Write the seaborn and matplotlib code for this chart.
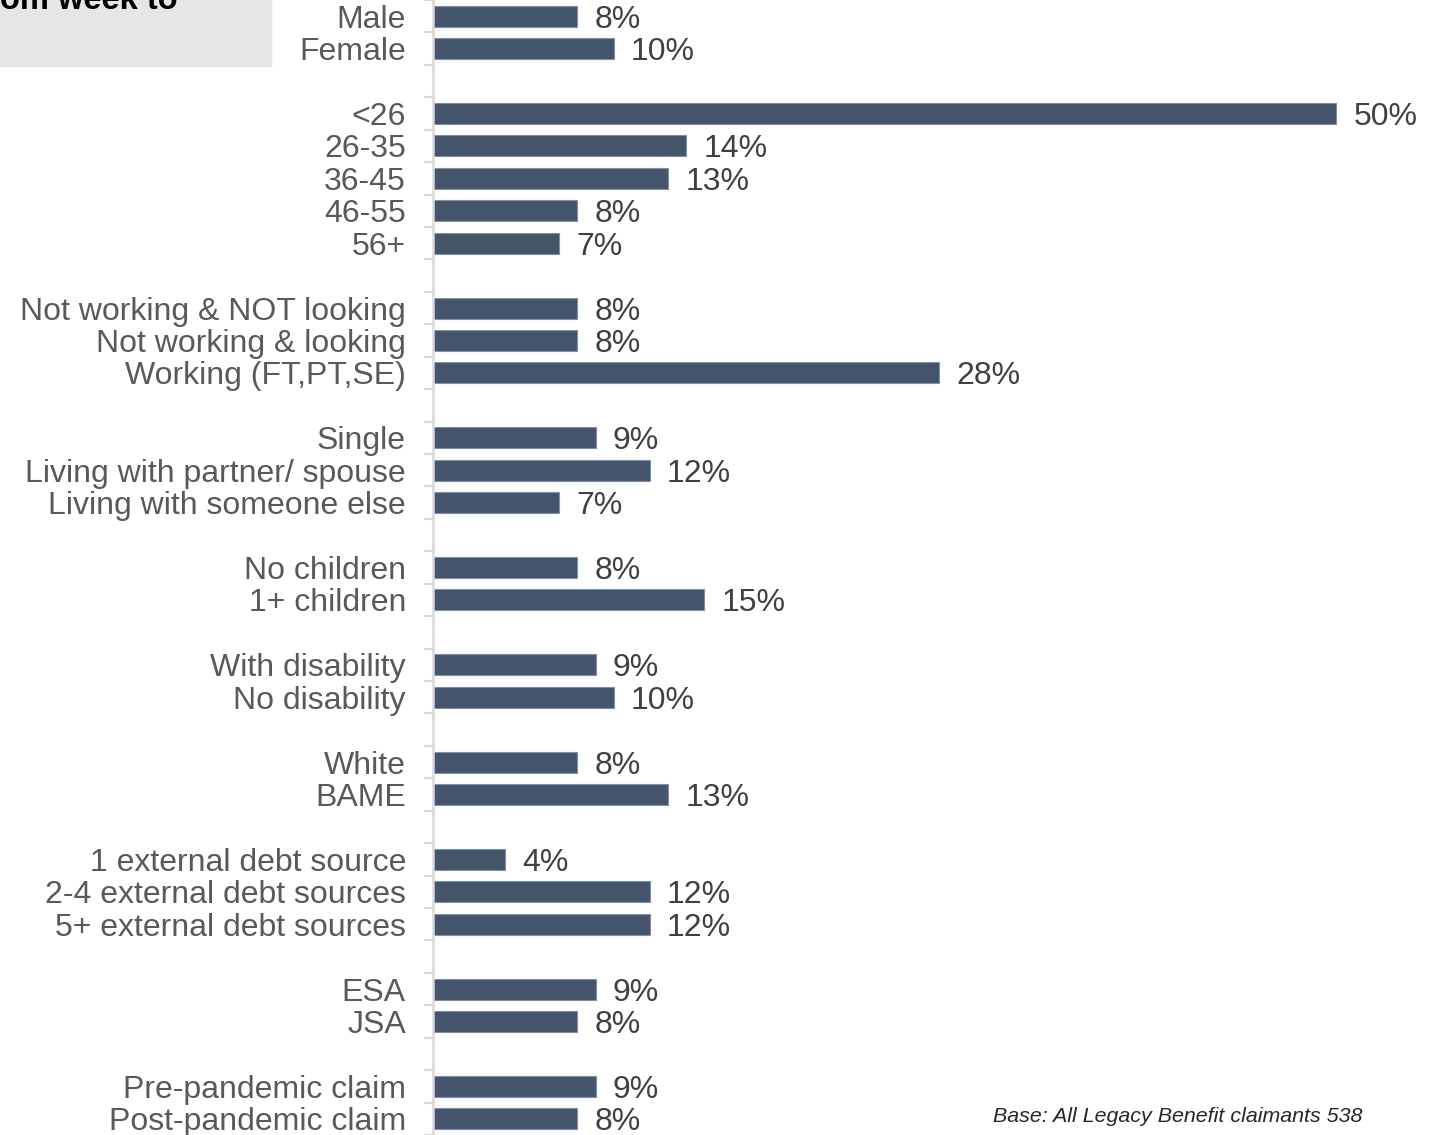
import matplotlib
matplotlib.use("Agg")
import matplotlib.pyplot as plt
from matplotlib.patches import Rectangle
import seaborn as sns
import pandas as pd

# ---- data ----
groups = [
    ["Male", "Female"],
    ["<26", "26-35", "36-45", "46-55", "56+"],
    ["Not working & NOT looking", "Not working & looking", "Working (FT,PT,SE)"],
    ["Single", "Living with partner/ spouse", "Living with someone else"],
    ["No children", "1+ children"],
    ["With disability", "No disability"],
    ["White", "BAME"],
    ["1 external debt source", "2-4 external debt sources", "5+ external debt sources"],
    ["ESA", "JSA"],
    ["Pre-pandemic claim", "Post-pandemic claim"],
]
values = [
    [8, 10],
    [50, 14, 13, 8, 7],
    [8, 8, 28],
    [9, 12, 7],
    [8, 15],
    [9, 10],
    [8, 13],
    [4, 12, 12],
    [9, 8],
    [9, 8],
]
footnote = "Base: All Legacy Benefit claimants 538"
box_text = "om week to"

# ---- build ordered categories with blank spacer rows ----
order, labels, cats, vals = [], [], [], []
for gi, (g, v) in enumerate(zip(groups, values)):
    if gi > 0:
        order.append(" " * gi)
        labels.append("")
    for c, x in zip(g, v):
        order.append(c)
        labels.append(c)
        cats.append(c)
        vals.append(x)
df = pd.DataFrame({"cat": cats, "val": vals})

sns.set_theme(style="white")
plt.rcParams["font.family"] = ["Liberation Sans", "DejaVu Sans"]

W, H = 1442, 1135
fig = plt.figure(figsize=(W / 100, H / 100), dpi=100)
ax_left = 433 / W
ax = fig.add_axes([ax_left, 0, 1 - ax_left, 1])

bar_color = "#44546A"
sns.barplot(data=df, x="val", y="cat", order=order, orient="h",
            color=bar_color, saturation=1, width=0.65, errorbar=None,
            edgecolor="#7F8FA6", linewidth=0.8, ax=ax)

px_per_unit = 903 / 50
ax.set_xlim(0, (W - 433) / px_per_unit)
n = len(order)
ax.set_ylim(n - 0.5, -0.5)

for cont in ax.containers:
    for bar in cont:
        w = bar.get_width()
        yc = bar.get_y() + bar.get_height() / 2
        ax.annotate(f"{w:.0f}%", xy=(w, yc), xytext=(12.5, -2.5),
                    textcoords="offset points", ha="left", va="center",
                    fontsize=23, color="#404040")

# ticks: labels at centers (no marks), marks at boundaries
ax.set_yticks(range(n))
ax.set_yticklabels(labels)
ax.tick_params(axis="y", which="major", length=0, pad=19.5,
               labelsize=23, labelcolor="#595959")
ax.set_yticks([i - 0.5 for i in range(n + 1)], minor=True)
ax.tick_params(axis="y", which="minor", length=6.5, width=1.5,
               color="#D9D9D9", left=True)
ax.set_xticks([])
ax.set_xlabel("")
ax.set_ylabel("")
for s in ["top", "right", "bottom"]:
    ax.spines[s].set_visible(False)
ax.spines["left"].set_color("#D9D9D9")
ax.spines["left"].set_linewidth(1.8)
ax.patch.set_alpha(0)

# grey box top-left (cropped text, as in the reference)
fig.patches.append(Rectangle((0, 1 - 66 / H), 271 / W, 66 / H,
                             transform=fig.transFigure, color="#E7E6E6",
                             zorder=0))
fig.text(0.0, 1 - 9 / H, box_text, fontsize=23.5, fontweight="bold",
         color="#000000", ha="left", va="baseline")

fig.text(1362 / W, 1 - 1117 / H, footnote, fontsize=15.4, style="italic",
         color="#262626", ha="right", va="center")

fig.savefig("out.png", dpi=100)
